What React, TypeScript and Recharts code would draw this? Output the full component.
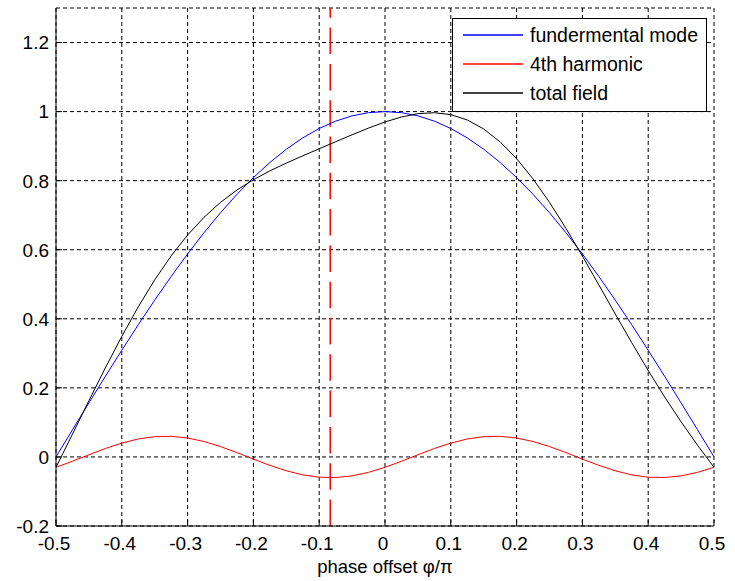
import React from 'react';
import { LineChart, Line, XAxis, YAxis, CartesianGrid, ReferenceLine, Legend } from 'recharts';

const FONT = '"Liberation Sans", Arial, Helvetica, sans-serif';

const phase = [
  -0.5, -0.475, -0.45, -0.425, -0.4, -0.375, -0.35, -0.325, -0.3, -0.275, -0.25,
  -0.225, -0.2, -0.175, -0.15, -0.125, -0.1, -0.075, -0.05, -0.025, 0,
  0.025, 0.05, 0.075, 0.1, 0.125, 0.15, 0.175, 0.2, 0.225, 0.25,
  0.275, 0.3, 0.325, 0.35, 0.375, 0.4, 0.425, 0.45, 0.475, 0.5,
];

const fundamental = [
  0, 0.0785, 0.1564, 0.2334, 0.309, 0.3827, 0.454, 0.5225, 0.5878, 0.6494, 0.7071,
  0.7604, 0.809, 0.8526, 0.891, 0.9239, 0.9511, 0.9724, 0.9877, 0.9969, 1,
  0.9969, 0.9877, 0.9724, 0.9511, 0.9239, 0.891, 0.8526, 0.809, 0.7604, 0.7071,
  0.6494, 0.5878, 0.5225, 0.454, 0.3827, 0.309, 0.2334, 0.1564, 0.0785, 0,
];

const harmonic = [
  -0.03, -0.0125, 0.0063, 0.0244, 0.0401, 0.052, 0.0587, 0.0597, 0.0548, 0.0446, 0.03,
  0.0125, -0.0063, -0.0244, -0.0401, -0.052, -0.0587, -0.0597, -0.0548, -0.0446, -0.03,
  -0.0125, 0.0063, 0.0244, 0.0401, 0.052, 0.0587, 0.0597, 0.0548, 0.0446, 0.03,
  0.0125, -0.0063, -0.0244, -0.0401, -0.052, -0.0587, -0.0597, -0.0548, -0.0446, -0.03,
];

const total = [
  -0.03, 0.066, 0.1627, 0.2578, 0.3491, 0.4347, 0.5127, 0.5822, 0.6426, 0.694, 0.7371,
  0.7729, 0.8027, 0.8282, 0.8509, 0.8719, 0.8924, 0.9127, 0.9329, 0.9523, 0.97,
  0.9844, 0.994, 0.9968, 0.9912, 0.9759, 0.9497, 0.9123, 0.8638, 0.805, 0.7371,
  0.6619, 0.5815, 0.4981, 0.4139, 0.3307, 0.2503, 0.1737, 0.1016, 0.0339, -0.03,
];

const seriesNames = ['fundermental mode', '4th harmonic', 'total field'];
const seriesColors = ['#0000ff', '#ff0000', '#000000'];
const xTicks = [-0.5, -0.4, -0.3, -0.2, -0.1, 0, 0.1, 0.2, 0.3, 0.4, 0.5];
const yTicks = [-0.2, 0, 0.2, 0.4, 0.6, 0.8, 1, 1.2];
const xDomain = [-0.5, 0.5];
const yDomain = [-0.2, 1.3];
const markerPhase = -0.0833;
const xLabel = 'phase offset \u03c6/\u03c0';

const data = phase.map((x, i) => ({
  x,
  fundamental: fundamental[i],
  harmonic: harmonic[i],
  total: total[i],
}));

const TICK = 6;
const LABEL_SIZE = 19;

const BottomTick = (props: any) => {
  const { x, y, payload } = props;
  return (
    <g>
      <line x1={x} x2={x} y1={y} y2={y - TICK} stroke="#000" />
      <text x={x - 2} y={y + 24} textAnchor="middle" fontSize={LABEL_SIZE} fill="#000" fontFamily={FONT}>
        {String(payload.value)}
      </text>
    </g>
  );
};

const TopTick = (props: any) => {
  const { x, y } = props;
  return <line x1={x} x2={x} y1={y} y2={y + TICK} stroke="#000" />;
};

const LeftTick = (props: any) => {
  const { x, y, payload } = props;
  return (
    <g>
      <line x1={x} x2={x + TICK} y1={y} y2={y} stroke="#000" />
      <text x={x - 7} y={y} dy="0.36em" textAnchor="end" fontSize={LABEL_SIZE} fill="#000" fontFamily={FONT}>
        {String(payload.value)}
      </text>
    </g>
  );
};

const RightTick = (props: any) => {
  const { x, y } = props;
  return <line x1={x} x2={x - TICK} y1={y} y2={y} stroke="#000" />;
};

const LegendBox = (props: any) => {
  const payload = (props.payload || [])
    .filter((p: any) => seriesNames.includes(p.value))
    .slice()
    .sort((a: any, b: any) => seriesNames.indexOf(a.value) - seriesNames.indexOf(b.value));
  return (
    <div
      style={{
        boxSizing: 'border-box',
        width: 255,
        height: 94,
        border: '1px solid #000',
        background: '#fff',
        position: 'relative',
        fontFamily: FONT,
        fontSize: 19.5,
        color: '#000',
      }}
    >
      {payload.map((p: any, i: number) => (
        <div
          key={p.value}
          style={{
            position: 'absolute',
            left: 10,
            top: 4 + i * 29,
            height: 24,
            display: 'flex',
            alignItems: 'center',
            whiteSpace: 'nowrap',
          }}
        >
          <svg width={60} height={2} style={{ display: 'block' }}>
            <line x1={0} x2={60} y1={1} y2={1} stroke={p.color} strokeWidth={1.5} />
          </svg>
          <span style={{ marginLeft: 7, lineHeight: '24px' }}>{p.value}</span>
        </div>
      ))}
    </div>
  );
};

export default function App() {
  return (
    <div style={{ position: 'absolute', left: 0, top: 0, background: '#fff' }}>
      <LineChart
        width={735}
        height={581}
        data={data}
        margin={{ top: 8, right: 21, left: 0, bottom: 0 }}
        style={{ fontFamily: FONT }}
      >
        <CartesianGrid stroke="#000" strokeDasharray="4 3" />
        <XAxis
          dataKey="x"
          type="number"
          domain={xDomain}
          ticks={xTicks}
          interval={0}
          height={55}
          tickSize={0}
          tickMargin={0}
          tickLine={false}
          axisLine={{ stroke: '#000' }}
          tick={BottomTick}
          allowDataOverflow
          label={{ value: xLabel, position: 'insideBottom', offset: 8, fill: '#000', fontSize: 18.5, fontFamily: FONT }}
        />
        <XAxis
          xAxisId="top"
          orientation="top"
          dataKey="x"
          type="number"
          domain={xDomain}
          ticks={xTicks}
          interval={0}
          height={0}
          tickSize={0}
          tickMargin={0}
          tickLine={false}
          axisLine={{ stroke: '#000' }}
          tick={TopTick}
          allowDataOverflow
        />
        <YAxis
          type="number"
          domain={yDomain}
          ticks={yTicks}
          interval={0}
          width={56}
          tickSize={0}
          tickMargin={0}
          tickLine={false}
          axisLine={{ stroke: '#000' }}
          tick={LeftTick}
          allowDataOverflow
        />
        <YAxis
          yAxisId="right"
          orientation="right"
          type="number"
          domain={yDomain}
          ticks={yTicks}
          interval={0}
          width={0}
          tickSize={0}
          tickMargin={0}
          tickLine={false}
          axisLine={{ stroke: '#000' }}
          tick={RightTick}
          allowDataOverflow
        />
        <ReferenceLine x={markerPhase} stroke="#ff0000" strokeWidth={1.5} strokeDasharray="26.5 9.8" />
        <Line type="linear" dataKey="fundamental" name={seriesNames[0]} stroke={seriesColors[0]} strokeWidth={1} dot={false} isAnimationActive={false} />
        <Line type="linear" dataKey="harmonic" name={seriesNames[1]} stroke={seriesColors[1]} strokeWidth={1} dot={false} isAnimationActive={false} />
        <Line type="linear" dataKey="total" name={seriesNames[2]} stroke={seriesColors[2]} strokeWidth={1} dot={false} isAnimationActive={false} />
        <Legend
          layout="vertical"
          align="center"
          verticalAlign="middle"
          wrapperStyle={{ left: 452, top: 18, width: 255, height: 94 }}
          content={LegendBox}
        />
      </LineChart>
    </div>
  );
}
